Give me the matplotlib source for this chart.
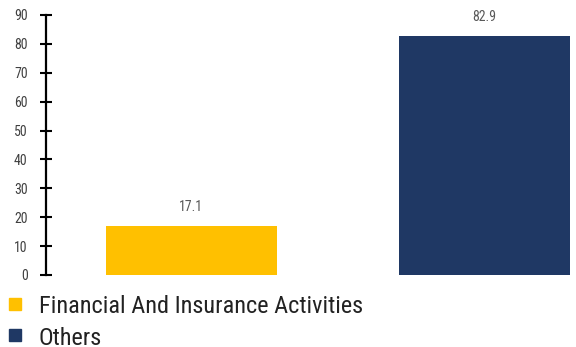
import matplotlib.pyplot as plt
from matplotlib.lines import Line2D

categories = ['Financial And Insurance Activities', 'Others']
values = [17.1, 82.9]
colors = ['#FFC000', '#1F3864']
y_ticks = [0, 10, 20, 30, 40, 50, 60, 70, 80, 90]

plt.rcParams['font.family'] = ['Roboto Condensed', 'Roboto', 'DejaVu Sans']

fig = plt.figure(figsize=(5.76, 3.47), dpi=100)
W, H = 576, 347
ax = fig.add_axes([45.7 / W, (H - 275) / H, (W - 45.7) / W, 260 / H])

x = list(range(len(values)))
ax.bar(x, values, width=0.586, color=colors)
for xi, v in zip(x, values):
    ax.text(xi, v + 6.3, f'{v}', ha='center', va='center', fontsize=10, color='#595959')

ax.set_xlim(-0.497, 1.312)
ax.set_ylim(0, 90)
ax.set_yticks(y_ticks)
ax.set_xticks([])
for s in ['top', 'right', 'bottom']:
    ax.spines[s].set_visible(False)
ax.spines['left'].set_linewidth(1.6)
ax.spines['left'].set_color('black')
ax.tick_params(axis='y', direction='inout', length=8, width=1.5, labelsize=10,
               labelcolor='#404040', pad=9)

# legend drawn by hand so the rows sit where the reference has them
marker_y = [304, 334.5]
baseline_y = [313.3, 344.6]
for name, c, my, by in zip(categories, colors, marker_y, baseline_y):
    fig.add_artist(Line2D([14.5 / W], [1 - my / H], marker='s', markersize=8.5,
                          linestyle='none', color=c, transform=fig.transFigure))
    fig.text(39 / W, 1 - by / H, name, ha='left', va='baseline',
             fontsize=17.5, color='#222222')

fig.savefig('out.png', dpi=100)
